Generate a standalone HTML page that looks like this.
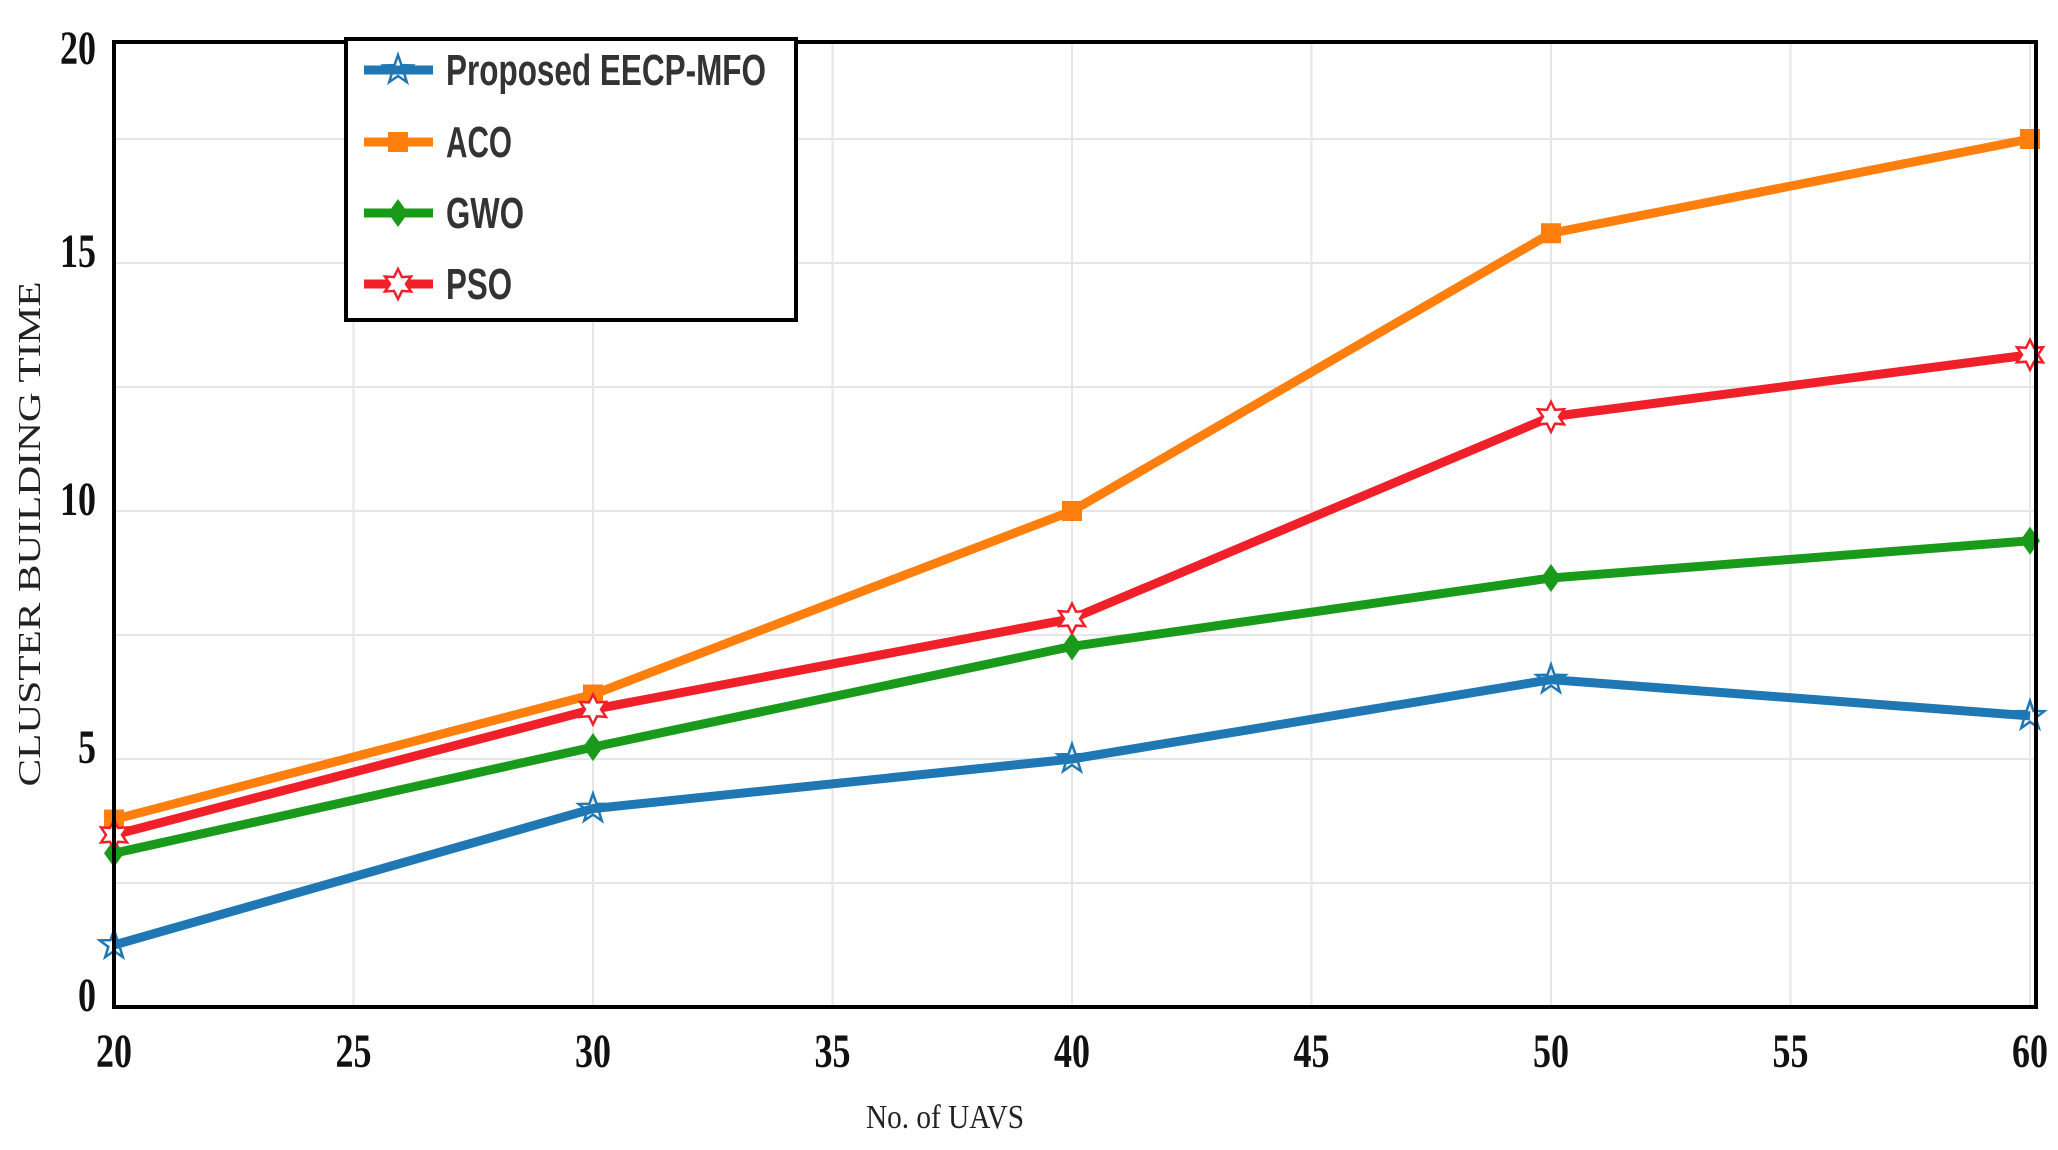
<!DOCTYPE html>
<html><head><meta charset="utf-8"><style>html,body{margin:0;padding:0;background:#fff}svg{display:block}</style></head>
<body>
<svg id="chart" width="2058" height="1150" viewBox="0 0 2058 1150" xmlns="http://www.w3.org/2000/svg">
<g id="grid"></g>
<g id="series"></g>
<rect x="114" y="42" width="1922" height="965" fill="none" stroke="#000" stroke-width="4"/>
<g id="ticks"></g>
<text transform="translate(40,534) rotate(-90)" text-anchor="middle" font-family="Liberation Serif, serif" font-size="32" fill="#222" textLength="505" lengthAdjust="spacingAndGlyphs">CLUSTER BUILDING TIME</text>
<text x="945" y="1128" text-anchor="middle" font-family="Liberation Serif, serif" font-size="34" fill="#222" textLength="158" lengthAdjust="spacingAndGlyphs">No. of UAVS</text>
<g id="legend"></g>
</svg>
<script>
const categories=[20,30,40,50,60];
const seriesNames=["Proposed EECP-MFO","ACO","GWO","PSO"];
const mfoValues=[1.25,4.0,5.0,6.6,5.87];
const acoValues=[3.78,6.3,10.0,15.6,17.5];
const gwoValues=[3.1,5.24,7.27,8.65,9.4];
const psoValues=[3.47,6.0,7.83,11.9,13.15];
const xTicks=[20,25,30,35,40,45,50,55,60];
const yTicks=[0,5,10,15,20];
const colors=["#1f77b4","#ff7f0e","#1a9a1a","#f0202a"];
const markers=["star","square","diamond","star6"];
const NS="http://www.w3.org/2000/svg";
function xs(v){return 114+(v-20)/40*1916;}
function ys(v){return 1007-v*49.6;}
function mk(tag,attrs,parent){const e=document.createElementNS(NS,tag);for(const k in attrs)e.setAttribute(k,attrs[k]);parent.appendChild(e);return e;}
const grid=document.getElementById('grid'),ser=document.getElementById('series'),tk=document.getElementById('ticks'),lg=document.getElementById('legend');
for(const t of xTicks){const l=mk('line',{x1:xs(t),x2:xs(t),y1:42,y2:1007,stroke:'#e6e6e6','stroke-width':2},grid);


const tx=mk('text',{x:xs(t),y:1067,'text-anchor':'middle','font-family':'Liberation Serif, serif','font-weight':'bold','font-size':48,fill:'#111',textLength:36,lengthAdjust:'spacingAndGlyphs'},tk);tx.textContent=t;

}
for(let v=2.5;v<20;v+=2.5){const l=mk('line',{x1:114,x2:2036,y1:ys(v),y2:ys(v),stroke:'#e6e6e6','stroke-width':2},grid);

}
for(const t of yTicks){const yy=t===20?64:ys(t)+4;const tx=mk('text',{x:96,y:yy,'text-anchor':'end','font-family':'Liberation Serif, serif','font-weight':'bold','font-size':48,fill:'#111',textLength:t<10?18:36,lengthAdjust:'spacingAndGlyphs'},tk);tx.textContent=t;

}
function marker(type,cx,cy,color,parent){let e;
if(type==='square'){e=mk('rect',{x:cx-10,y:cy-10,width:20,height:20,fill:color},parent);}
else if(type==='diamond'){e=mk('polygon',{points:`${cx},${cy-14} ${cx+10},${cy} ${cx},${cy+14} ${cx-10},${cy}`,fill:color},parent);}
else if(type==='star'){let p=[];for(let i=0;i<10;i++){const r=i%2?6:15,a=-Math.PI/2+i*Math.PI/5;p.push((cx+r*Math.cos(a)).toFixed(1)+','+(cy+r*Math.sin(a)).toFixed(1));}e=mk('polygon',{points:p.join(' '),fill:'none',stroke:color,'stroke-width':2.5},parent);}
else{let p=[];for(let i=0;i<12;i++){const r=i%2?8:15,a=-Math.PI/2+i*Math.PI/6;p.push((cx+r*Math.cos(a)).toFixed(1)+','+(cy+r*Math.sin(a)).toFixed(1));}e=mk('polygon',{points:p.join(' '),fill:'#fff',stroke:color,'stroke-width':2.5},parent);}
return e;}
const allVals=[mfoValues,acoValues,gwoValues,psoValues];
const order=[1,2,3,0];
for(const s of order){const vals=allVals[s];const g=mk('g',{},ser);


const pl=mk('polyline',{points:categories.map((c,i)=>xs(c)+','+ys(vals[i])).join(' '),fill:'none',stroke:colors[s],'stroke-width':9,'stroke-linejoin':'round'},g);


categories.forEach((c,i)=>{const m=marker(markers[s],xs(c),ys(vals[i]),colors[s],g);

});}
const box=mk('rect',{x:346,y:39,width:450,height:281,fill:'#fff',stroke:'#000','stroke-width':4},lg);


const rowY=[70,142,213,284];
const tl=[320,66,78,66];
seriesNames.forEach((n,i)=>{const g=mk('g',{},lg);


mk('line',{x1:364,x2:433,y1:rowY[i],y2:rowY[i],stroke:colors[i],'stroke-width':9},g);
marker(markers[i],398,rowY[i],colors[i],g);
const t=mk('text',{x:446,y:rowY[i]+15,'font-family':'Liberation Sans, sans-serif','font-weight':'bold','font-size':44,fill:'#333',textLength:tl[i],lengthAdjust:'spacingAndGlyphs'},g);t.textContent=n;

});
</script>
</body></html>
